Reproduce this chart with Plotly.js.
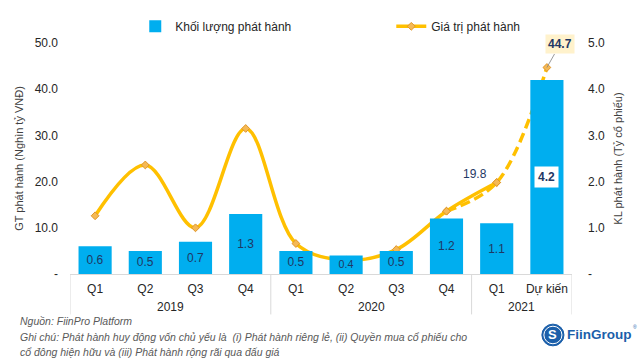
<!DOCTYPE html>
<html>
<head>
<meta charset="utf-8">
<script src="https://cdn.plot.ly/plotly-3.0.1.min.js"></script>
<style>
html,body{margin:0;padding:0;background:#fff;}
#chart{width:640px;height:360px;}
</style>
</head>
<body>
<div id="chart"></div>
<script>
const years = ['2019','2019','2019','2019','2020','2020','2020','2020','2021','2021'];
const quarters = ['Q1','Q2','Q3','Q4','Q1','Q2','Q3','Q4','Q1','Dự kiến'];
const volume = [0.6, 0.5, 0.7, 1.3, 0.5, 0.4, 0.5, 1.2, 1.1, 4.2];
const value = [12.6, 23.6, 10.0, 31.5, 6.6, 3.0, 5.3, 13.6, 19.8, 44.7];
const leftTicks = [0, 10, 20, 30, 40, 50];
const leftTickText = ['-', '10.0', '20.0', '30.0', '40.0', '50.0'];
const rightTicks = [0, 1, 2, 3, 4, 5];
const rightTickText = ['-', '1.0', '2.0', '3.0', '4.0', '5.0'];

const n = quarters.length;
const actualN = n - 1;
const idx = quarters.map((_, i) => i);
const FONT = 'Liberation Sans, Arial, sans-serif';
const NAVY = '#1F3864';
const BLUE = '#00AEEF';
const GOLD = '#FFC000';
const DIV = '#D9D9D9';

const barText = volume.map((v, i) => i === n - 1 ? '' : v.toFixed(1));

const bars = {
  type: 'bar',
  name: 'Khối lượng phát hành',
  x: idx,
  y: volume,
  yaxis: 'y2',
  marker: {color: BLUE},
  text: barText,
  textposition: 'inside',
  insidetextanchor: 'middle',
  textfont: {family: FONT, size: 12, color: NAVY},
  legend: 'legend',
  hoverinfo: 'skip'
};

const markerStyle = {symbol: 'diamond', size: 6, color: '#F5B955', line: {color: '#E0962A', width: 1}};

const lineDashed = {
  type: 'scatter',
  mode: 'lines+markers',
  x: idx.slice(actualN - 2),
  y: value.slice(actualN - 2),
  line: {color: GOLD, width: 3.5, shape: 'spline', dash: '10px,5px'},
  marker: markerStyle,
  showlegend: false,
  hoverinfo: 'skip'
};

const lineSolid = {
  type: 'scatter',
  mode: 'lines+markers',
  name: 'Giá trị phát hành',
  x: idx.slice(0, actualN),
  y: value.slice(0, actualN),
  line: {color: GOLD, width: 3.5, shape: 'spline'},
  marker: markerStyle,
  legend: 'legend2',
  hoverinfo: 'skip'
};

// year group labels and dividers derived from the data
const yearGroups = [];
years.forEach((y, i) => {
  const g = yearGroups[yearGroups.length - 1];
  if (g && g.year === y) { g.end = i; } else { yearGroups.push({year: y, start: i, end: i}); }
});
const yearAnnotations = yearGroups.map(g => ({
  xref: 'x', yref: 'paper', x: (g.start + g.end) / 2, y: -0.145,
  xanchor: 'center', yanchor: 'middle', showarrow: false, text: g.year,
  font: {family: FONT, size: 12, color: '#262626'}
}));
const dividerX = [yearGroups[0].start - 0.5].concat(yearGroups.map(g => g.end + 0.5));
const dividerShapes = dividerX.map(x => ({
  type: 'line', xref: 'x', yref: 'paper', x0: x, x1: x, y0: 0, y1: -0.175,
  line: {color: DIV, width: 1}
}));

const footerColor = '#595959';
const legendFont = {family: FONT, size: 12, color: '#262626'};
const layout = {
  width: 640, height: 360,
  margin: {l: 70, r: 68, t: 39, b: 86},
  paper_bgcolor: '#fff', plot_bgcolor: '#fff',
  font: {family: FONT, size: 12, color: '#333'},
  bargap: 0.34,
  showlegend: true,
  legend: {
    orientation: 'h', x: 0.13, xanchor: 'left', y: 1.135, yanchor: 'top',
    font: legendFont, bgcolor: 'rgba(0,0,0,0)'
  },
  legend2: {
    orientation: 'h', x: 0.64, xanchor: 'left', y: 1.135, yanchor: 'top',
    font: legendFont, bgcolor: 'rgba(0,0,0,0)'
  },
  xaxis: {
    range: [-0.5, n - 0.5],
    tickmode: 'array', tickvals: idx, ticktext: quarters,
    tickangle: 0,
    showline: true, linecolor: DIV, linewidth: 1,
    showgrid: false, zeroline: false, ticks: '',
    ticklabelstandoff: 4,
    tickfont: {family: FONT, size: 12, color: '#262626'}
  },
  yaxis: {
    range: [0, 50], tickvals: leftTicks, ticktext: leftTickText,
    showgrid: false, zeroline: false, showline: false,
    ticklabelstandoff: 11,
    tickfont: {family: FONT, size: 12, color: '#262626'},
    title: {text: 'GT phát hành (Nghìn tỷ VNĐ)', font: {family: FONT, size: 11, color: '#404040'}, standoff: 8}
  },
  yaxis2: {
    range: [0, 5], tickvals: rightTicks, ticktext: rightTickText,
    overlaying: 'y', side: 'right',
    showgrid: false, zeroline: false, showline: false,
    ticklabelstandoff: 15,
    tickfont: {family: FONT, size: 12, color: '#262626'},
    title: {text: 'KL phát hành (Tỷ cổ phiếu)', font: {family: FONT, size: 11, color: '#404040'}, standoff: 10}
  },
  annotations: yearAnnotations.concat([
    {
      xref: 'x', yref: 'y', x: idx[n - 1], y: value[n - 1],
      text: '<b>' + value[n - 1].toFixed(1) + '</b>',
      showarrow: true, arrowhead: 0, arrowwidth: 0.8, arrowcolor: '#808080',
      ax: 13, ay: -23, bgcolor: '#FFF2CC', borderpad: 2,
      font: {family: FONT, size: 12, color: NAVY}
    },
    {
      xref: 'x', yref: 'y', x: idx[actualN - 1], y: value[actualN - 1],
      text: value[actualN - 1].toFixed(1),
      showarrow: false, xshift: -22, yshift: 9,
      font: {family: FONT, size: 12, color: NAVY}
    },
    {
      xref: 'x', yref: 'y2', x: idx[n - 1], y: volume[n - 1] / 2,
      text: '<b>' + volume[n - 1].toFixed(1) + '</b>',
      showarrow: false, bgcolor: '#FFFFFF', borderpad: 3,
      font: {family: FONT, size: 12, color: NAVY}
    },
    {
      xref: 'paper', yref: 'paper', x: -0.104, y: -0.204, xanchor: 'left', yanchor: 'middle',
      text: '<i>Nguồn: FiinPro Platform</i>', showarrow: false, align: 'left',
      font: {family: FONT, size: 10.5, color: footerColor}
    },
    {
      xref: 'paper', yref: 'paper', x: -0.104, y: -0.272, xanchor: 'left', yanchor: 'middle',
      text: '<i>Ghi chú: Phát hành huy động vốn chủ yếu là  (i) Phát hành riêng lẻ, (ii) Quyền mua cổ phiếu cho</i>', showarrow: false, align: 'left',
      font: {family: FONT, size: 10.5, color: footerColor}
    },
    {
      xref: 'paper', yref: 'paper', x: -0.104, y: -0.336, xanchor: 'left', yanchor: 'middle',
      text: '<i>cổ đông hiện hữu và (iii) Phát hành rộng rãi qua đấu giá</i>', showarrow: false, align: 'left',
      font: {family: FONT, size: 10.5, color: footerColor}
    },
    {
      xref: 'paper', yref: 'paper', x: 0.986, y: -0.264, xanchor: 'left', yanchor: 'middle',
      text: '<b>FiinGroup</b>', showarrow: false,
      font: {family: FONT, size: 13.5, color: '#1B5FAA'}
    },
    {
      xref: 'paper', yref: 'paper', x: 1.118, y: -0.228, xanchor: 'left', yanchor: 'middle',
      text: '®', showarrow: false,
      font: {family: FONT, size: 5, color: '#1B5FAA'}
    },
    {
      xref: 'paper', yref: 'paper', x: 0.962, y: -0.264, xanchor: 'center', yanchor: 'middle',
      text: '<b>S</b>', showarrow: false,
      font: {family: FONT, size: 13, color: '#FFFFFF'}
    }
  ]),
  shapes: dividerShapes.concat([
    {type: 'circle', xref: 'paper', yref: 'paper', x0: 0.940, x1: 0.984, y0: -0.311, y1: -0.217,
     fillcolor: '#1B5FAA', line: {color: '#1B5FAA', width: 1}},
    {type: 'circle', xref: 'paper', yref: 'paper', x0: 0.944, x1: 0.980, y0: -0.302, y1: -0.226,
     fillcolor: 'rgba(0,0,0,0)', line: {color: '#FFFFFF', width: 1}}
  ])
};

Plotly.newPlot('chart', [bars, lineDashed, lineSolid], layout, {displayModeBar: false, staticPlot: true});
</script>
</body>
</html>
